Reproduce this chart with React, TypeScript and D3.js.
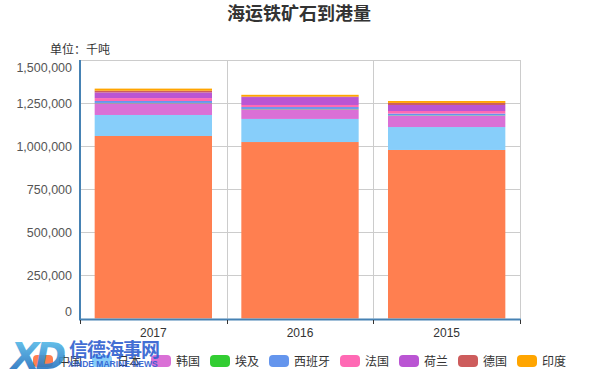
import React from "react";
import * as d3 from "d3";

const categories = ["2017", "2016", "2015"];
const seriesNames = ["中国", "日本", "韩国", "埃及", "西班牙", "法国", "荷兰", "德国", "印度"];
const seriesColors = ["#ff7f50", "#87cefa", "#da70d6", "#32cd32", "#6495ed", "#ff69b4", "#ba55d3", "#cd5c5c", "#ffa500"];
const china = [1059000, 1024000, 978000];
const japan = [122000, 134000, 133000];
const korea = [68000, 56000, 66000];
const egypt = [2000, 2000, 2000];
const spain = [11000, 11000, 10000];
const france = [17000, 12000, 15000];
const netherlands = [33000, 46000, 35000];
const germany = [10000, 3000, 12000];
const india = [12000, 10000, 11000];
const yTicks = [0, 250000, 500000, 750000, 1000000, 1250000, 1500000];

const W = 599;
const H = 378;
const M = { left: 80, right: 79, top: 60, bottom: 60 };

export default function App() {
  const values = [china, japan, korea, egypt, spain, france, netherlands, germany, india];
  const rows = categories.map((c, i) => {
    const r: any = { cat: c };
    seriesNames.forEach((s, k) => (r[s] = values[k][i]));
    return r;
  });
  const stacked = d3.stack<any>().keys(seriesNames)(rows);
  const x = d3.scaleBand().domain(categories).range([M.left, W - M.right]).paddingInner(0).paddingOuter(0);
  const y = d3.scaleLinear().domain([0, 1500000]).range([318.5, M.top]);
  const barPad = x.bandwidth() * 0.1;
  const fmt = d3.format(",");
  const font = "'Liberation Sans', Arial, 'Noto Sans CJK SC', sans-serif";
  const cjk = "'Noto Sans CJK SC', sans-serif";

  // legend layout
  const sw = 20, sg = 5, ig = 10, fs = 12;
  const widths = seriesNames.map((s) => sw + sg + s.length * fs);
  const total = d3.sum(widths) + ig * (widths.length - 1);
  let cx = (W - total) / 2;
  const legendX = widths.map((w) => {
    const p = cx;
    cx += w + ig;
    return p;
  });
  const legendY = 361;

  const x0 = M.left, x1 = W - M.right, yTop = M.top, yBot = 318.5;
  const bounds = [x0, ...categories.map((c) => (x(c) as number) + x.bandwidth())];
  const labelShift = (i: number) => (i === 0 ? -7 : i === yTicks.length - 1 ? 7 : 0);

  return (
    <svg width={W} height={H} style={{ position: "absolute", left: 0, top: 0 }}>
      <defs>
        <linearGradient id="xdg" x1="0" y1="0" x2="0" y2="1">
          <stop offset="0" stopColor="#5ec8f0" />
          <stop offset="1" stopColor="#1a5fb4" />
        </linearGradient>
      </defs>
      <rect width={W} height={H} fill="#fff" />
      <text x={299} y={20} textAnchor="middle" fontFamily={cjk} fontWeight="bold" fontSize={18} fill="#333">海运铁矿石到港量</text>
      <text x={50} y={54} fontFamily={cjk} fontSize={12} fill="#333">单位：千吨</text>
      {/* grid */}
      {yTicks.map((t) => (
        <line key={t} x1={x0} x2={x1} y1={Math.round(y(t)) + 0.5} y2={Math.round(y(t)) + 0.5} stroke="#ccc" />
      ))}
      {bounds.slice(1).map((b, i) => (
        <line key={i} x1={Math.round(b) + 0.5} x2={Math.round(b) + 0.5} y1={yTop} y2={yBot} stroke="#ccc" />
      ))}
      {/* bars */}
      {stacked.map((layer, k) => (
        <g key={k} fill={seriesColors[k]}>
          {layer.map((d, i) => (
            <rect
              key={i}
              x={(x(categories[i]) as number) + barPad}
              width={x.bandwidth() - 2 * barPad}
              y={y(d[1])}
              height={Math.max(0, y(d[0]) - y(d[1]))}
            />
          ))}
        </g>
      ))}
      {/* axes */}
      <line x1={x0} x2={x0} y1={yTop} y2={320} stroke="#4682b4" strokeWidth={2} />
      <line x1={x0 - 1} x2={x1 + 1} y1={319.5} y2={319.5} stroke="#4682b4" strokeWidth={2} />
      {bounds.map((b, i) => (
        <line key={i} x1={Math.round(b) + 0.5} x2={Math.round(b) + 0.5} y1={320} y2={324} stroke="#333" />
      ))}
      {yTicks.map((t, i) => (
        <text key={t} x={72} y={y(t) + 4.5 + labelShift(i)} textAnchor="end" fontFamily={font} fontSize={12.5} fill="#555">{fmt(t)}</text>
      ))}
      {categories.map((c) => (
        <text key={c} x={(x(c) as number) + x.bandwidth() / 2} y={337} textAnchor="middle" fontFamily={font} fontSize={12} fill="#333">{c}</text>
      ))}
      {/* legend */}
      {seriesNames.map((s, k) => (
        <g key={s}>
          <rect x={legendX[k]} y={legendY - 6} width={sw} height={12} rx={4} fill={seriesColors[k]} />
          <text x={legendX[k] + sw + sg} y={legendY + 4.5} fontFamily={cjk} fontSize={fs} fill="#333">{s}</text>
        </g>
      ))}
      {/* watermark */}
      <g opacity={0.9}>
        <text x={11} y={369} fontFamily="'DejaVu Sans', sans-serif" fontWeight="bold" fontStyle="italic" fontSize={37} fill="url(#xdg)" letterSpacing={-4}>XD</text>
        <text x={69} y={357} fontFamily={cjk} fontWeight="bold" fontSize={19} fill="#2f5fd0" letterSpacing={-1}>信德海事网</text>
        <text x={68} y={367} fontFamily={font} fontWeight="bold" fontSize={8.5} fill="#2f5fd0">XINDE MARINE NEWS</text>
      </g>
    </svg>
  );
}
